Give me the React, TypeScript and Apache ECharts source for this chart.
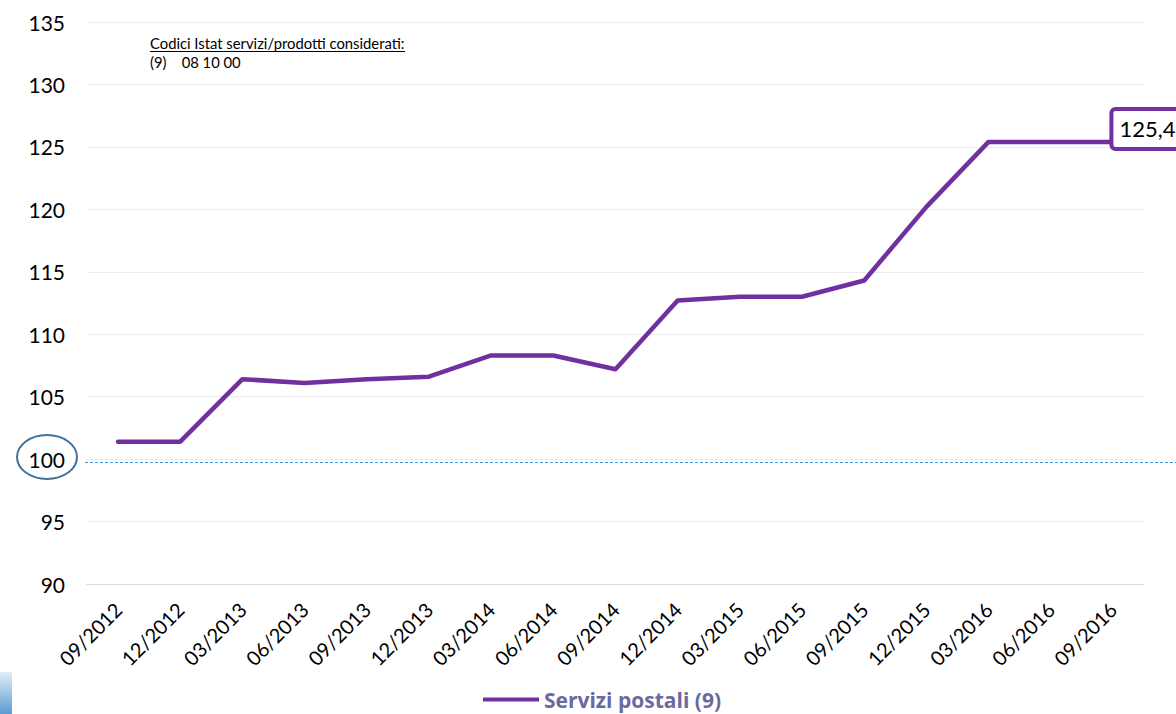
import React, { useEffect, useRef } from "react";
import * as echarts from "echarts";

const categories = [
  "09/2012", "12/2012", "03/2013", "06/2013", "09/2013", "12/2013",
  "03/2014", "06/2014", "09/2014", "12/2014", "03/2015", "06/2015",
  "09/2015", "12/2015", "03/2016", "06/2016", "09/2016",
];
const postali = [
  101.4, 101.4, 106.4, 106.1, 106.4, 106.6,
  108.3, 108.3, 107.2, 112.7, 113.0, 113.0,
  114.3, 120.2, 125.4, 125.4, 125.4,
];
const seriesName = "Servizi postali (9)";
const baseLine = 99.8;
const noteTitle = "Codici Istat servizi/prodotti considerati:";
const noteBody = "(9)    08 10 00";

const PURPLE = "#7030a0";
const FONT = "Lato, 'Open Sans', sans-serif";

export default function App() {
  const ref = useRef<HTMLDivElement>(null);
  useEffect(() => {
    const chart = echarts.init(ref.current!, undefined, { renderer: "svg" });
    const last = postali.length - 1;
    chart.setOption({
      animation: false,
      textStyle: { fontFamily: FONT },
      grid: { left: 87, right: 32, top: 22, bottom: 130 },
      legend: {
        bottom: 4,
        left: 483,
        padding: 0,
        itemWidth: 56,
        itemHeight: 4,
        itemGap: 3,
        textStyle: { fontSize: 21, fontWeight: "bold", color: "#6a6a9c", fontFamily: "'Open Sans', sans-serif" },
        data: [{ name: seriesName, icon: "path://M0,0 L56,0 L56,4 L0,4 Z" }],
      },
      xAxis: {
        type: "category",
        data: categories,
        boundaryGap: true,
        axisLine: { lineStyle: { color: "#d9d9d9", width: 1 } },
        axisTick: { show: false },
        axisLabel: { rotate: 45, fontSize: 20, color: "#000", margin: 22, interval: 0, fontFamily: FONT },
      },
      yAxis: {
        type: "value",
        min: 90,
        max: 135,
        interval: 5,
        axisLine: { show: false },
        axisTick: { show: false },
        axisLabel: { fontSize: 21, color: "#000", margin: 22, fontFamily: FONT },
        splitLine: { lineStyle: { color: "#ececec", width: 1 } },
      },
      series: [
        {
          name: seriesName,
          type: "line",
          data: postali.map((v, i) =>
            i === last
              ? {
                  value: v,
                  label: {
                    show: true,
                    position: "right",
                    distance: 0,
                    offset: [0, -13],
                    formatter: (p: any) => String(p.value).replace(".", ","),
                    fontSize: 22,
                    color: "#000",
                    backgroundColor: "#fff",
                    borderColor: PURPLE,
                    borderWidth: 4,
                    borderRadius: 2,
                    padding: [8, 12, 6, 6],
                    fontFamily: FONT,
                  },
                }
              : v
          ),
          symbol: "circle",
          symbolSize: 1,
          showSymbol: true,
          lineStyle: { color: PURPLE, width: 4.5, cap: "round", join: "round" },
          itemStyle: { color: PURPLE },
        },
      ],
    });
    const yBase = Math.round(chart.convertToPixel({ yAxisIndex: 0 }, baseLine) as number) + 0.5;
    chart.setOption({
      graphic: [
        {
          type: "line",
          z: 0,
          shape: { x1: 85, y1: yBase, x2: 1176, y2: yBase },
          style: { stroke: "#3f8fdc", lineWidth: 1, lineDash: [3, 2] },
        },
        {
          type: "text",
          left: 150,
          top: 35,
          style: { text: noteTitle, fontSize: 14.8, fill: "#000", fontFamily: FONT },
        },
        {
          type: "line",
          shape: { x1: 150, y1: 51.5, x2: 405, y2: 51.5 },
          style: { stroke: "#000", lineWidth: 1 },
        },
        {
          type: "text",
          left: 150,
          top: 54,
          style: { text: noteBody, fontSize: 14.8, fill: "#000", fontFamily: FONT },
        },
        {
          type: "ellipse",
          shape: { cx: 47, cy: 457, rx: 30, ry: 22 },
          style: { fill: "none", stroke: "#41719c", lineWidth: 2 },
        },
        {
          type: "rect",
          shape: { x: 0, y: 672, width: 12, height: 42 },
          style: {
            fill: new echarts.graphic.LinearGradient(0, 0, 0, 1, [
              { offset: 0, color: "#e3edf8" },
              { offset: 1, color: "#5b9bd5" },
            ]),
          },
        },
      ],
    });
    return () => chart.dispose();
  }, []);
  return (
    <div
      ref={ref}
      style={{ position: "fixed", left: 0, top: 0, width: 1176, height: 714, background: "#fff" }}
    />
  );
}
